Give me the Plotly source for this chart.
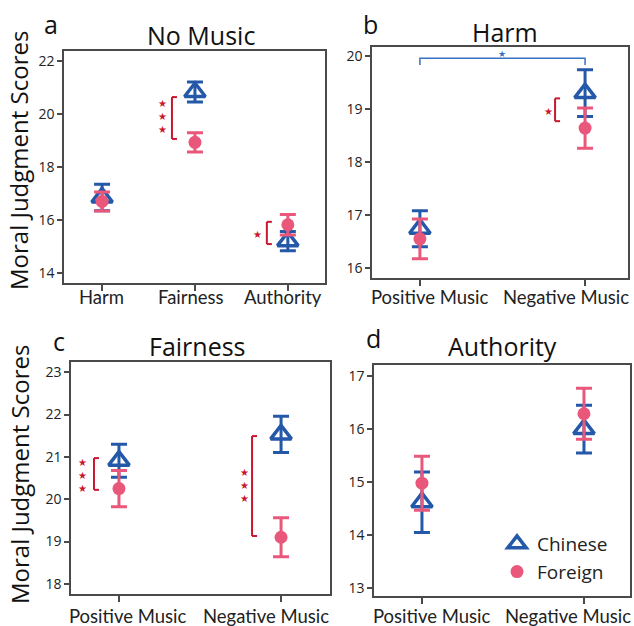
import plotly.graph_objects as go

# ---------------- data ----------------
nomusic_cats = ["Harm", "Fairness", "Authority"]
nomusic_chinese = [16.85, 20.83, 15.20]
nomusic_chinese_err = [0.50, 0.38, 0.36]
nomusic_foreign = [16.70, 18.93, 15.82]
nomusic_foreign_err = [0.36, 0.36, 0.39]

music_cats = ["Positive Music", "Negative Music"]
harm_chinese = [16.74, 19.30]
harm_chinese_err = [0.34, 0.44]
harm_foreign = [16.55, 18.64]
harm_foreign_err = [0.375, 0.38]

fair_chinese = [20.91, 21.53]
fair_chinese_err = [0.39, 0.43]
fair_foreign = [20.25, 19.10]
fair_foreign_err = [0.43, 0.46]

auth_chinese = [14.62, 16.00]
auth_chinese_err = [0.57, 0.45]
auth_foreign = [14.98, 16.29]
auth_foreign_err = [0.51, 0.48]

# ---------------- style ----------------
BLUE = "#2458a8"
PINK = "#e9587b"
RED = "#c8172f"
LBLUE = "#3a72c2"
AX = "#4a4a4a"
TXT = "#222222"
FONT = "Open Sans"
XFONT = "Lato"
W, H = 634, 626


def px(x0, x1):
    return [x0 / W, x1 / W]


def py(top, bottom):
    return [1 - bottom / H, 1 - top / H]


panels = [
    dict(cats=nomusic_cats, ch=nomusic_chinese, che=nomusic_chinese_err,
         fo=nomusic_foreign, foe=nomusic_foreign_err,
         xd=px(64, 325), yd=py(51, 283), xr=[-0.41, 2.40], yr=[13.62, 22.38],
         yt=[14, 16, 18, 20, 22], lab_dx=[-1, -4, -5], lab_y=297),
    dict(cats=music_cats, ch=harm_chinese, che=harm_chinese_err,
         fo=harm_foreign, foe=harm_foreign_err,
         xd=px(372, 628), yd=py(47, 278), xr=[-0.29, 1.26], yr=[15.81, 20.17],
         yt=[16, 17, 18, 19, 20], lab_dx=[10, -19], lab_y=297),
    dict(cats=music_cats, ch=fair_chinese, che=fair_chinese_err,
         fo=fair_foreign, foe=fair_foreign_err,
         xd=px(71, 330), yd=py(362, 594), xr=[-0.296, 1.302], yr=[17.76, 23.24],
         yt=[18, 19, 20, 21, 22, 23], lab_dx=[9, -15], lab_y=616),
    dict(cats=music_cats, ch=auth_chinese, che=auth_chinese_err,
         fo=auth_foreign, foe=auth_foreign_err,
         xd=px(374, 630), yd=py(365, 596), xr=[-0.296, 1.284], yr=[12.85, 17.21],
         yt=[13, 14, 15, 16, 17], lab_dx=[10, -16], lab_y=616),
]

fig = go.Figure()
layout = {}
annotations = []
shapes = []

for i, p in enumerate(panels, start=1):
    sfx = "" if i == 1 else str(i)
    xs = list(range(len(p["cats"])))
    fig.add_trace(go.Scatter(
        x=xs, y=p["ch"], mode="markers", name="Chinese",
        xaxis="x" + sfx, yaxis="y" + sfx, showlegend=(i == 4),
        error_y=dict(type="data", array=p["che"], color=BLUE, thickness=3, width=8),
        marker=dict(symbol="triangle-up-open", size=18, color=BLUE,
                    line=dict(width=3.5, color=BLUE)),
    ))
    fig.add_trace(go.Scatter(
        x=xs, y=p["fo"], mode="markers", name="Foreign",
        xaxis="x" + sfx, yaxis="y" + sfx, showlegend=(i == 4),
        error_y=dict(type="data", array=p["foe"], color=PINK, thickness=3, width=8),
        marker=dict(symbol="circle", size=13, color=PINK),
    ))
    common = dict(showline=True, linecolor=AX, linewidth=1.5, mirror=True,
                  ticks="outside", tickcolor=AX, tickwidth=1.5,
                  showgrid=False, zeroline=False, automargin=False)
    layout["xaxis" + sfx] = dict(
        domain=p["xd"], range=p["xr"], anchor="y" + sfx,
        tickmode="array", tickvals=xs, ticklen=6, showticklabels=False, **common)
    layout["yaxis" + sfx] = dict(
        domain=p["yd"], range=p["yr"], anchor="x" + sfx,
        tickmode="array", tickvals=p["yt"], ticklen=5,
        tickfont=dict(family=FONT, size=14, color=TXT), **common)
    # category labels (placed as in the reference, pulled slightly inward)
    for xv, lab, dx in zip(xs, p["cats"], p["lab_dx"]):
        annotations.append(dict(text=lab, x=xv, xref="x" + sfx, xshift=dx,
                                y=1 - p["lab_y"] / H, yref="paper",
                                xanchor="center", yanchor="middle", showarrow=False,
                                font=dict(family=XFONT, size=18.5, color=TXT)))

fig.update_layout(**layout)


def paper_text(text, x, y, size, xanchor="center"):
    annotations.append(dict(text=text, x=x / W, y=1 - y / H, xref="paper", yref="paper",
                            xanchor=xanchor, yanchor="middle", showarrow=False,
                            font=dict(family=FONT, size=size, color="#111111")))


# panel letters and titles
paper_text("a", 51, 24, 25)
paper_text("No Music", 201, 35, 25)
paper_text("b", 370, 24, 25)
paper_text("Harm", 505, 32, 25)
paper_text("c", 59, 341, 25)
paper_text("Fairness", 197, 346, 25)
paper_text("d", 373, 338, 25)
paper_text("Authority", 503, 346, 25)

# y-axis titles
for yc in (161, 475):
    annotations.append(dict(text="Moral Judgment Scores", x=19 / W, y=1 - yc / H,
                            xref="paper", yref="paper", xanchor="center", yanchor="middle",
                            textangle=-90, showarrow=False,
                            font=dict(family=FONT, size=24, color="#111111")))


def bracket(i, xcat, dx, y0, y1, color, tick=5, width=2):
    sfx = "" if i == 1 else str(i)
    base = dict(type="line", xref="x" + sfx, yref="y" + sfx, xsizemode="pixel",
                xanchor=xcat, line=dict(color=color, width=width))
    shapes.append(dict(base, x0=dx, x1=dx, y0=y0, y1=y1))
    shapes.append(dict(base, x0=dx, x1=dx + tick, y0=y0, y1=y0))
    shapes.append(dict(base, x0=dx, x1=dx + tick, y0=y1, y1=y1))


def stars(i, xcat, dx, y, n, color, size=10):
    sfx = "" if i == 1 else str(i)
    annotations.append(dict(text="<br>".join(["★"] * n), x=xcat, y=y,
                            xref="x" + sfx, yref="y" + sfx, xshift=dx,
                            xanchor="center", yanchor="middle", showarrow=False,
                            font=dict(family="DejaVu Sans", size=size, color=color)))


# panel a
bracket(1, 1, -23, 20.64, 19.06, RED)
stars(1, 1, -32, 19.89, 3, RED)
bracket(1, 2, -21, 15.93, 15.09, RED)
stars(1, 2, -30, 15.45, 1, RED)
# panel b
bracket(2, 1, -30, 19.20, 18.77, RED)
stars(2, 1, -37, 18.96, 1, RED)
shapes.append(dict(type="path", xref="x2", yref="y2",
                   path="M 0,19.83 L 0,19.96 L 1,19.96 L 1,19.83",
                   line=dict(color=LBLUE, width=1.5)))
stars(2, 0.5, 0, 20.04, 1, LBLUE, size=9)
# panel c
bracket(3, 0, -25, 20.97, 20.22, RED)
stars(3, 0, -36, 20.55, 3, RED)
bracket(3, 1, -29, 21.49, 19.13, RED)
stars(3, 1, -37, 20.33, 3, RED)

fig.update_layout(
    template="none",
    width=W, height=H, margin=dict(l=0, r=0, t=0, b=0, autoexpand=False),
    paper_bgcolor="white", plot_bgcolor="white",
    font=dict(family=FONT, color=TXT),
    annotations=annotations, shapes=shapes,
    legend=dict(x=497 / W, y=1 - 525 / H, xanchor="left", yanchor="top",
                bgcolor="rgba(0,0,0,0)", font=dict(family=FONT, size=19, color=TXT),
                itemwidth=30, tracegroupgap=0, borderwidth=0),
)

fig.write_html("out.html", config={"displayModeBar": False},
               post_script="document.body.style.margin='0px';")
